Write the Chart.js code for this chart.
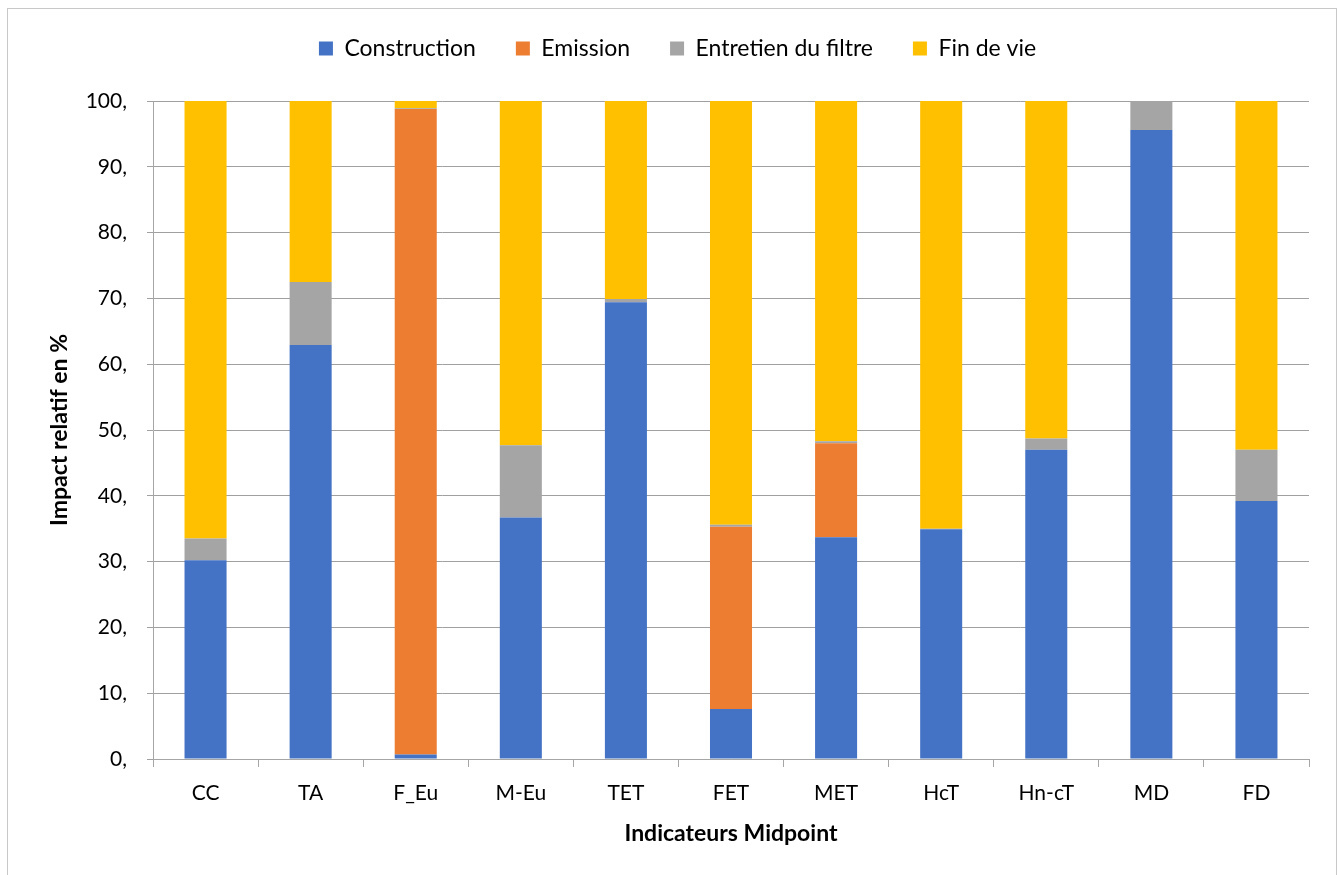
<!DOCTYPE html>
<html lang="fr">
<head>
<meta charset="utf-8">
<title>Impact relatif par indicateur midpoint</title>
<script src="https://cdn.jsdelivr.net/npm/chart.js@4/dist/chart.umd.min.js"></script>
<style>
  html, body { margin: 0; padding: 0; background: #ffffff; }
  body { width: 1338px; height: 875px; position: relative; overflow: hidden; }
  #frame {
    position: absolute; left: 7px; top: 8px; width: 1330px; height: 880px;
    border: 1px solid #c8c8c8; box-sizing: border-box;
  }
  #wrap { position: absolute; left: 0; top: 0; width: 1338px; height: 875px; }
</style>
</head>
<body>
<div id="frame"></div>
<div id="wrap"><canvas id="chart" width="1338" height="875"></canvas></div>
<script>
// Indicateurs midpoint (axe des abscisses)
const categories = ['CC', 'TA', 'F_Eu', 'M-Eu', 'TET', 'FET', 'MET', 'HcT', 'Hn-cT', 'MD', 'FD'];

// Contributions relatives (%) de chaque phase
const construction = [30.2, 62.9, 0.7, 36.7, 69.4, 7.6, 33.7, 34.9, 47.0, 95.6, 39.2];
const emission     = [0, 0, 98.1, 0, 0, 27.7, 14.3, 0, 0, 0, 0];
const entretien    = [3.3, 9.6, 0.1, 11.0, 0.5, 0.3, 0.3, 0.1, 1.7, 4.4, 7.8];
const finDeVie     = [66.5, 27.5, 1.1, 52.3, 30.1, 64.4, 51.7, 65.0, 51.3, 0, 53.0];

// Libellés de l'axe des ordonnées
const yTickLabels = ['0,', '10,', '20,', '30,', '40,', '50,', '60,', '70,', '80,', '90,', '100,'];

const FONT = "Lato, 'Open Sans', sans-serif";

// Espace supplémentaire sous la légende
const legendGap = {
  id: 'legendGap',
  beforeInit(chart) {
    const legend = chart.legend;
    if (!legend) return;
    const fit = legend.fit;
    legend.fit = function () {
      fit.call(this);
      this.height += 31;
    };
  }
};

const ctx = document.getElementById('chart').getContext('2d');
new Chart(ctx, {
  type: 'bar',
  data: {
    labels: categories,
    datasets: [
      { label: 'Construction', data: construction, backgroundColor: '#4472C4' },
      { label: 'Emission', data: emission, backgroundColor: '#ED7D31' },
      { label: 'Entretien du filtre', data: entretien, backgroundColor: '#A5A5A5' },
      { label: 'Fin de vie', data: finDeVie, backgroundColor: '#FFC000' }
    ]
  },
  plugins: [legendGap],
  options: {
    responsive: false,
    animation: false,
    layout: { padding: { left: 46, right: 29, top: -3, bottom: 28 } },
    datasets: { bar: { barPercentage: 0.4, categoryPercentage: 1.0, borderWidth: 0 } },
    plugins: {
      tooltip: { enabled: false },
      legend: {
        position: 'top',
        align: 'center',
        labels: {
          boxWidth: 14, boxHeight: 14, padding: 40,
          color: '#000000',
          font: { family: FONT, size: 23 }
        }
      }
    },
    scales: {
      x: {
        stacked: true,
        offset: true,
        border: { display: true, color: '#a6a6a6', width: 1 },
        grid: { display: true, offset: true, drawOnChartArea: false, drawTicks: true, tickLength: 8, color: '#a6a6a6' },
        ticks: { color: '#000000', font: { family: FONT, size: 21 }, padding: 14, maxRotation: 0 },
        title: { display: true, text: 'Indicateurs Midpoint', color: '#000000', font: { family: FONT, size: 23, weight: 'bold' }, padding: { top: 6, bottom: 0 } },
        afterFit: (s) => { s.height = 88; }
      },
      y: {
        stacked: true,
        min: 0, max: 100,
        border: { display: true, color: '#a6a6a6', width: 1 },
        grid: { color: '#a0a0a0', lineWidth: 1, drawTicks: true, tickLength: 6 },
        ticks: {
          stepSize: 10,
          color: '#000000',
          font: { family: FONT, size: 21 },
          padding: 20,
          callback: (v, i) => yTickLabels[i]
        },
        title: { display: true, text: 'Impact relatif en %', color: '#000000', font: { family: FONT, size: 23, weight: 'bold' }, padding: { top: 0, bottom: 8 } },
        afterFit: (s) => { s.width = 107; }
      }
    }
  }
});
</script>
</body>
</html>
